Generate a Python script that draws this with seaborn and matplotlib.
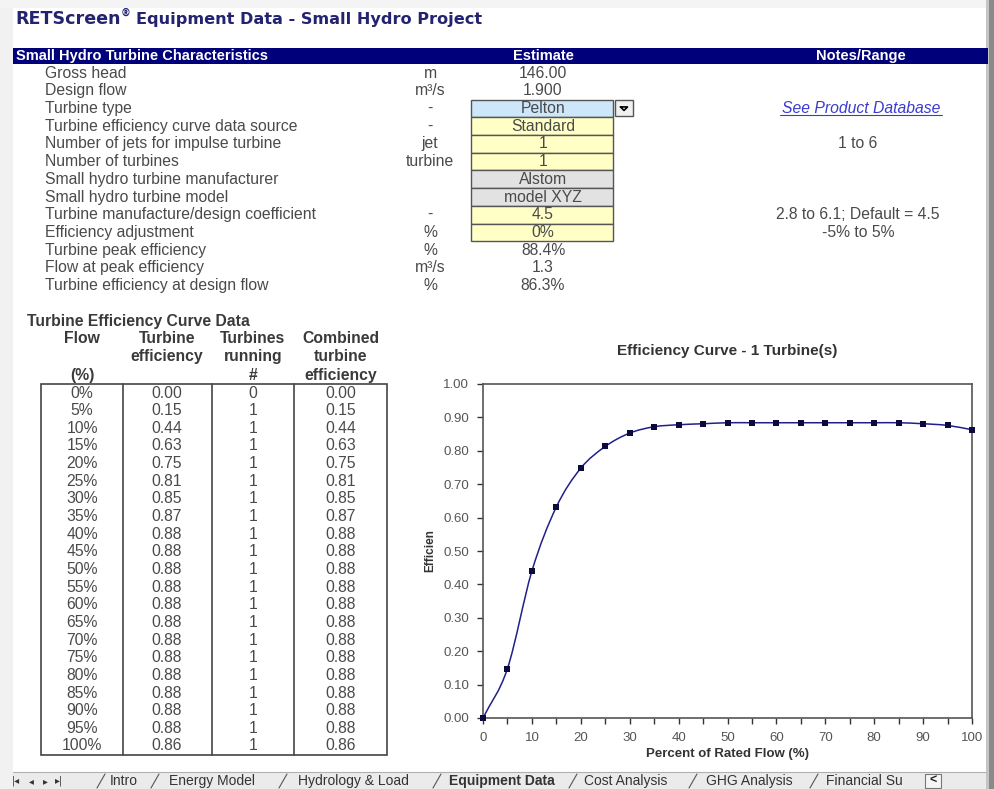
import matplotlib
matplotlib.use("Agg")
import matplotlib.pyplot as plt
from matplotlib.patches import Rectangle, PathPatch
from matplotlib.path import Path
import numpy as np
import pandas as pd
import seaborn as sns

# ---------------- data ----------------
title = "RETScreen"
title_rest = "Equipment Data - Small Hydro Project"

param_labels = ["Gross head", "Design flow", "Turbine type",
                "Turbine efficiency curve data source",
                "Number of jets for impulse turbine", "Number of turbines",
                "Small hydro turbine manufacturer", "Small hydro turbine model",
                "Turbine manufacture/design coefficient", "Efficiency adjustment",
                "Turbine peak efficiency", "Flow at peak efficiency",
                "Turbine efficiency at design flow"]
param_units = ["m", "m\u00b3/s", "-", "-", "jet", "turbine", "", "", "-", "%",
               "%", "m\u00b3/s", "%"]
param_values = ["146.00", "1.900", "Pelton", "Standard", "1", "1", "Alstom",
                "model XYZ", "4.5", "0%", "88.4%", "1.3", "86.3%"]
# cell fill: None = plain, 'b' = selected input, 'y' = user input, 'g' = database
param_cells = [None, None, "b", "y", "y", "y", "g", "g", "y", "y",
               None, None, None]
param_notes = {2: "See Product Database", 4: "1 to 6",
               8: "2.8 to 6.1; Default = 4.5", 9: "-5% to 5%"}

flow_pct = [0, 5, 10, 15, 20, 25, 30, 35, 40, 45, 50, 55, 60, 65, 70, 75,
            80, 85, 90, 95, 100]
turbine_eff = [0.0, 0.148, 0.44, 0.632, 0.748, 0.813, 0.853, 0.872, 0.878,
               0.881, 0.884, 0.884, 0.884, 0.884, 0.884, 0.884, 0.884, 0.884,
               0.881, 0.876, 0.863]
turbines_running = [0] + [1] * 20

sheet_tabs = ["Intro", "Energy Model", "Hydrology & Load", "Equipment Data",
              "Cost Analysis", "GHG Analysis", "Financial Su"]

df = pd.DataFrame({"flow": flow_pct, "eff": turbine_eff,
                   "running": turbines_running})
df["combined"] = df["eff"] * (df["running"] > 0)

# ---------------- style ----------------
sns.set_style("ticks")
plt.rcParams["font.family"] = ["Liberation Sans", "DejaVu Sans"]

W, H = 994, 789
fig = plt.figure(figsize=(W / 100, H / 100), dpi=100)
fig.patch.set_facecolor("white")

# pixel-coordinate canvas for the sheet part
bg = fig.add_axes([0, 0, 1, 1])
bg.set_xlim(0, W)
bg.set_ylim(H, 0)
bg.axis("off")

txt = "#4a4a4a"
navy = "#00007a"
fs = 11.3

# window frame / shadows
bg.add_patch(Rectangle((0, 0), 13, H, color="#f1f1f1", lw=0))
bg.add_patch(Rectangle((0, 0), W, 8, color="#f4f4f4", lw=0))
bg.add_patch(Rectangle((986, 0), 8, H, color="#c4c4c4", lw=0))
bg.add_patch(Rectangle((989, 0), 5, H, color="#8a8a8a", lw=0))

# title, fitted to the widths seen in the sheet
renderer = fig.canvas.get_renderer()
tcol = "#232370"
t1 = bg.text(15, 19, title, fontsize=11, fontweight="bold", color=tcol,
             va="center", ha="left", family="DejaVu Sans")
w1 = t1.get_window_extent(renderer).width
t1.set_fontsize(11 * 105 / w1)
bg.text(121, 13, "\u00ae", fontsize=7, fontweight="bold", color=tcol,
        va="center", ha="left", family="DejaVu Sans")
t2 = bg.text(136, 19, title_rest, fontsize=11, fontweight="bold", color=tcol,
             va="center", ha="left", family="DejaVu Sans")
w2 = t2.get_window_extent(renderer).width
t2.set_fontsize(11 * 344 / w2)

# header bar
bg.add_patch(Rectangle((13, 48), 975, 15.5, color=navy, lw=0))
hdr = dict(color="white", fontweight="bold", fontsize=10.5, va="center")
bg.text(16, 56, "Small Hydro Turbine Characteristics", ha="left", **hdr)
bg.text(543, 56, "Estimate", ha="center", **hdr)
bg.text(861, 56, "Notes/Range", ha="center", **hdr)

fills = {"b": "#cde6fa", "y": "#ffffc6", "g": "#e2e2e2"}
row0, dy = 73, 17.72
for i, (lab, unit, val) in enumerate(zip(param_labels, param_units, param_values)):
    y = row0 + i * dy
    bg.text(45, y, lab, fontsize=fs, color=txt, va="center", ha="left")
    bg.text(430, y, unit, fontsize=fs, color=txt, va="center", ha="center")
    cell = param_cells[i]
    if cell is not None:
        bg.add_patch(Rectangle((471, y - dy / 2), 142, dy, facecolor=fills[cell],
                               edgecolor="#555555", lw=1.0))
    bg.text(543, y, val, fontsize=fs, color=txt, va="center", ha="center")
    if i in param_notes:
        note = param_notes[i]
        if i == 2:
            bg.text(861, y, note, fontsize=fs, color="#3b3bd0", style="italic",
                    va="center", ha="center")
            bg.plot([780, 942], [y + 7, y + 7], color="#3b3bd0", lw=0.8)
        else:
            bg.text(858, y, note, fontsize=fs, color=txt, va="center", ha="center")

# dropdown button of the selected cell
yb = row0 + 2 * dy
bg.add_patch(Rectangle((615, yb - 8), 18, 16, facecolor="#f0f0f0",
                       edgecolor="#555555", lw=1.0))
bg.plot([620.5, 627.5, 624, 620.5], [yb - 1.5, yb - 1.5, yb + 2, yb - 1.5],
        color="black", lw=1.2)

# efficiency curve table
bold = dict(fontsize=fs, fontweight="bold", color="#3a3a3a", va="center",
            ha="center")
bg.text(27, 321, "Turbine Efficiency Curve Data", fontsize=fs,
        fontweight="bold", color="#3a3a3a", va="center", ha="left")
col_x = [82, 167, 253, 341]
for cx, lines in zip(col_x, [["Flow", "", "(%)"],
                             ["Turbine", "efficiency", ""],
                             ["Turbines", "running", "#"],
                             ["Combined", "turbine", "efficiency"]]):
    for yy, s in zip([338, 356, 375], lines):
        bg.text(cx, yy, s, **bold)

edges = [41, 123, 212, 294, 387]
top, bot = 384, 755
bg.add_patch(Rectangle((edges[0], top), edges[-1] - edges[0], bot - top,
                       fill=False, edgecolor="#444444", lw=1.2))
for ex in edges[1:-1]:
    bg.plot([ex, ex], [top, bot], color="#444444", lw=1.2)

trow0, tdy = 393, 17.65
for i, r in df.iterrows():
    y = trow0 + i * tdy
    bg.text(col_x[0], y, f"{int(r['flow'])}%", fontsize=fs, color=txt,
            va="center", ha="center")
    bg.text(col_x[1], y, f"{r['eff']:.2f}", fontsize=fs, color=txt,
            va="center", ha="center")
    bg.text(col_x[2], y, f"{int(r['running'])}", fontsize=fs, color=txt,
            va="center", ha="center")
    bg.text(col_x[3], y, f"{r['combined']:.2f}", fontsize=fs, color=txt,
            va="center", ha="center")

# sheet tab bar
bg.add_patch(Rectangle((13, 772), 973, 17, color="#ebebeb", lw=0))
bg.plot([13, 986], [772, 772], color="#b0b0b0", lw=0.8)
for x, s in zip([16, 31, 45, 59], ["|\u25c2", "\u25c2", "\u25b8", "\u25b8|"]):
    bg.text(x, 781, s, fontsize=7, color="#333333", va="center", ha="center",
            family="DejaVu Sans")
tab_x = [110, 169, 298, 449, 584, 706, 826]
for x, s in zip(tab_x, sheet_tabs):
    bg.text(x, 781, s, fontsize=10, color="#333333", va="center", ha="left",
            fontweight="bold" if s == "Equipment Data" else "normal")
for x in [101, 155, 283, 437, 573, 693, 814]:
    bg.plot([x - 4, x + 4], [788, 774], color="#555555", lw=0.8)
bg.add_patch(Rectangle((925, 774), 16, 14, facecolor="#f5f5f5",
                       edgecolor="#777777", lw=0.8))
bg.text(933, 781, "<", fontsize=9, fontweight="bold", color="#222222",
        va="center", ha="center")

# ---------------- chart ----------------
ax = fig.add_axes([483 / W, 1 - 718 / H, 489 / W, 334 / H])
ax.set_facecolor("white")

# smoothed line (Bezier through the data points, Excel style)
x = np.array(flow_pct, dtype=float)
yv = np.array(turbine_eff, dtype=float)
pts = np.column_stack([x, yv])
n = len(pts)
verts = [tuple(pts[0])]
codes = [Path.MOVETO]
for i in range(n - 1):
    p1, p2 = pts[i], pts[i + 1]
    p0 = pts[i - 1] if i > 0 else 2 * p1 - p2
    p3 = pts[i + 2] if i + 2 < n else 2 * p2 - p1
    c1 = p1 + (p2 - p0) / 6
    c2 = p2 - (p3 - p1) / 6
    verts += [tuple(c1), tuple(c2), tuple(p2)]
    codes += [Path.CURVE4] * 3
ax.add_patch(PathPatch(Path(verts, codes), facecolor="none",
                       edgecolor="#20208a", lw=1.1, zorder=2))

sns.scatterplot(data=df, x="flow", y="eff", marker="s", s=16,
                color="#0a0a3c", edgecolor="#0a0a3c", linewidth=0, ax=ax,
                zorder=3, clip_on=False)

ax.set_xlim(0, 100)
ax.set_ylim(0, 1.0)
ax.set_xticks(np.arange(0, 101, 10))
ax.set_xticks(np.arange(5, 100, 10), minor=True)
ax.set_yticks(np.arange(0, 1.01, 0.1))
ax.set_yticklabels([f"{v:.2f}" for v in np.arange(0, 1.01, 0.1)])
ax.tick_params(axis="both", which="both", direction="out", length=4,
               width=1, color="#333333", labelsize=9.5, labelcolor="#555555",
               pad=6)
for sp in ax.spines.values():
    sp.set_visible(True)
    sp.set_color("#555555")
    sp.set_linewidth(1.2)

ax.set_xlabel("Percent of Rated Flow (%)", fontsize=9.5, fontweight="bold",
              color="#333333", labelpad=3)
ax.set_ylabel("Efficien", fontsize=8.5, fontweight="bold", color="#333333",
              labelpad=5)
fig.text(727 / W, 1 - 351 / H, "Efficiency Curve - 1 Turbine(s)",
         fontsize=11, fontweight="bold", color="#333333", ha="center",
         va="center")

fig.savefig("out.png", dpi=100)
